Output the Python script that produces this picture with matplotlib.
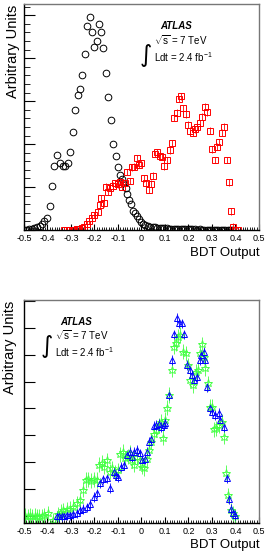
import matplotlib
matplotlib.use("Agg")
import matplotlib.pyplot as plt
from matplotlib.ticker import MultipleLocator, NullLocator

plt.rcParams["font.family"] = ["Liberation Sans", "DejaVu Sans"]
plt.rcParams["mathtext.fontset"] = "custom"
plt.rcParams["mathtext.rm"] = "Liberation Sans"
plt.rcParams["mathtext.it"] = "Liberation Sans:italic"

# ---- top panel: background (circles) and signal (squares) ----
bkg_x = [-0.495, -0.488, -0.477, -0.467, -0.457, -0.445, -0.434, -0.423, -0.413, -0.402,
         -0.391, -0.381, -0.372, -0.360, -0.346, -0.335, -0.324, -0.312, -0.304, -0.292,
         -0.283, -0.272, -0.262, -0.254, -0.242, -0.232, -0.221, -0.212, -0.201, -0.191,
         -0.181, -0.173, -0.163, -0.151, -0.141, -0.131, -0.121, -0.110, -0.101, -0.093,
         -0.085, -0.078, -0.068, -0.060, -0.054, -0.044, -0.036, -0.026, -0.019, -0.010,
         -0.002, 0.007, 0.017, 0.027, 0.037, 0.047, 0.057, 0.067, 0.077, 0.087,
         0.097, 0.107, 0.117, 0.127, 0.137, 0.147, 0.157, 0.167, 0.177, 0.187,
         0.197, 0.207, 0.217, 0.227, 0.237, 0.247, 0.257, 0.267, 0.277, 0.287,
         0.297, 0.307, 0.317, 0.327, 0.337, 0.347, 0.357, 0.367, 0.377, 0.387,
         0.397]
bkg_y = [0.00, 0.01, 0.02, 0.03, 0.05, 0.08, 0.10, 0.14, 0.22, 0.29,
         0.57, 1.02, 1.50, 1.74, 1.55, 1.50, 1.50, 1.55, 1.81, 2.29,
         2.79, 3.15, 3.28, 3.60, 4.09, 4.74, 4.96, 4.60, 4.26, 4.39,
         4.80, 4.60, 4.24, 3.66, 3.10, 2.56, 2.00, 1.73, 1.46, 1.28,
         1.18, 1.09, 0.97, 0.85, 0.71, 0.60, 0.45, 0.40, 0.33, 0.25,
         0.19, 0.15, 0.12, 0.10, 0.08, 0.07, 0.06, 0.05, 0.05, 0.04,
         0.04, 0.04, 0.03, 0.03, 0.03, 0.03, 0.03, 0.02, 0.02, 0.02,
         0.02, 0.02, 0.02, 0.02, 0.01, 0.02, 0.01, 0.01, 0.01, 0.01,
         0.01, 0.01, 0.01, 0.01, 0.01, 0.00, 0.01, 0.00, 0.00, 0.00,
         0.00]

sig_x = [-0.330, -0.319, -0.308, -0.297, -0.287, -0.276, -0.265, -0.255, -0.244, -0.233,
         -0.223, -0.211, -0.200, -0.187, -0.178, -0.172, -0.159, -0.150, -0.144, -0.133,
         -0.122, -0.112, -0.102, -0.091, -0.081, -0.069, -0.061, -0.051, -0.041, -0.031,
         -0.020, -0.012, -0.001, 0.009, 0.020, 0.030, 0.040, 0.049, 0.057, 0.067,
         0.078, 0.088, 0.097, 0.109, 0.120, 0.130, 0.140, 0.150, 0.159, 0.169,
         0.178, 0.189, 0.200, 0.208, 0.219, 0.229, 0.238, 0.248, 0.258, 0.269,
         0.280, 0.291, 0.301, 0.311, 0.322, 0.331, 0.341, 0.351, 0.362, 0.372,
         0.380, 0.391, 0.400, 0.411]
sig_y = [0.00, 0.00, 0.00, 0.00, 0.01, 0.02, 0.03, 0.05, 0.08, 0.14,
         0.21, 0.27, 0.35, 0.43, 0.58, 0.74, 0.62, 1.01, 0.89, 0.98,
         1.03, 1.09, 1.07, 1.12, 1.01, 1.09, 1.35, 1.14, 1.46, 1.47,
         1.67, 1.52, 1.55, 1.20, 1.09, 0.94, 1.08, 1.26, 1.77, 1.81,
         1.72, 1.70, 1.48, 1.63, 1.86, 2.02, 2.61, 2.73, 3.05, 3.11,
         2.83, 2.69, 2.45, 2.31, 2.26, 2.34, 2.40, 2.48, 2.64, 2.87,
         2.74, 2.31, 1.88, 1.63, 1.94, 2.05, 2.26, 2.40, 1.63, 1.11,
         0.44, 0.08, 0.01, 0.00]
sig_err = 0.08

# ---- bottom panel: two signal samples (triangles, stars) ----
blue_x = [-0.361, -0.351, -0.339, -0.329, -0.318, -0.304, -0.290, -0.273, -0.261, -0.247,
          -0.230, -0.219, -0.201, -0.190, -0.176, -0.162, -0.147, -0.133, -0.119, -0.109,
          -0.098, -0.087, -0.073, -0.062, -0.051, -0.041, -0.031, -0.019, -0.008, 0.002,
          0.013, 0.023, 0.032, 0.041, 0.052, 0.063, 0.073, 0.083, 0.094, 0.102,
          0.116, 0.130, 0.137, 0.152, 0.161, 0.173, 0.180, 0.194, 0.205, 0.216,
          0.225, 0.237, 0.247, 0.255, 0.265, 0.271, 0.280, 0.291, 0.301, 0.315,
          0.329, 0.336, 0.350, 0.362, 0.372, 0.379, 0.391, 0.400]
blue_y = [0.00, 0.00, 0.00, 0.02, 0.03, 0.03, 0.07, 0.10, 0.22, 0.25,
          0.32, 0.45, 0.72, 0.84, 1.24, 1.36, 1.40, 1.05, 1.65, 1.52,
          1.46, 1.83, 1.90, 2.27, 2.39, 2.20, 2.39, 2.45, 2.33, 2.08,
          2.11, 2.39, 2.76, 2.85, 3.35, 3.38, 3.41, 3.30, 3.38, 3.45,
          4.50, 5.80, 6.75, 7.35, 7.16, 7.16, 6.75, 5.61, 5.43, 5.24,
          5.06, 5.18, 5.80, 5.99, 6.11, 5.80, 4.78, 4.00, 3.88, 3.75,
          3.82, 3.57, 3.32, 1.40, 0.62, 0.25, 0.10, 0.04]
blue_err = 0.18

green_x = [-0.495, -0.485, -0.475, -0.465, -0.455, -0.445, -0.435, -0.425, -0.415, -0.398,
           -0.378, -0.354, -0.341, -0.332, -0.318, -0.304, -0.290, -0.273, -0.261, -0.247,
           -0.236, -0.226, -0.216, -0.204, -0.190, -0.179, -0.169, -0.159, -0.147, -0.136,
           -0.126, -0.112, -0.102, -0.090, -0.079, -0.069, -0.059, -0.048, -0.041, -0.031,
           -0.019, -0.008, 0.002, 0.012, 0.023, 0.032, 0.042, 0.052, 0.062, 0.073,
           0.083, 0.090, 0.100, 0.109, 0.116, 0.130, 0.137, 0.149, 0.154, 0.166,
           0.177, 0.188, 0.198, 0.208, 0.218, 0.230, 0.239, 0.248, 0.258, 0.265,
           0.271, 0.282, 0.291, 0.302, 0.308, 0.319, 0.329, 0.341, 0.353, 0.361,
           0.369, 0.379, 0.389, 0.400]
green_y = [0.02, 0.00, 0.01, 0.00, 0.02, 0.00, -0.02, 0.00, 0.03, 0.10,
           -0.15, 0.07, 0.15, 0.22, 0.25, 0.27, 0.35, 0.47, 0.59, 0.97,
           1.34, 1.36, 1.31, 1.36, 1.34, 1.90, 1.98, 1.83, 2.08, 1.65,
           1.77, 1.61, 1.71, 2.30, 2.39, 2.14, 2.20, 2.35, 2.08, 1.90,
           2.20, 2.08, 1.83, 1.77, 2.11, 2.45, 2.76, 3.05, 3.20, 3.38,
           3.51, 2.91, 3.57, 4.03, 4.50, 5.43, 6.29, 6.42, 6.67, 6.73,
           6.11, 6.05, 5.61, 5.06, 4.87, 5.36, 5.43, 6.05, 6.39, 5.92,
           5.49, 4.93, 4.06, 4.06, 3.22, 3.26, 3.38, 3.51, 2.95, 1.61,
           0.78, 0.22, 0.10, 0.00]
green_err = 0.28

x_label = "BDT Output"
y_label = "Arbitrary Units"
x_ticks = [-0.5, -0.4, -0.3, -0.2, -0.1, 0, 0.1, 0.2, 0.3, 0.4, 0.5]


def style_axes(ax, ylim, ymajor, yminor):
    ax.set_xlim(-0.5, 0.5)
    ax.set_ylim(*ylim)
    ax.set_xticks(x_ticks)
    ax.set_xticklabels([f"{t:g}" for t in x_ticks])
    ax.xaxis.set_minor_locator(MultipleLocator(0.01))
    ax.yaxis.set_major_locator(MultipleLocator(ymajor))
    if yminor:
        ax.yaxis.set_minor_locator(MultipleLocator(yminor))
    else:
        ax.yaxis.set_minor_locator(NullLocator())
    ax.set_yticklabels([])
    ax.tick_params(axis="x", which="major", direction="in", length=4, width=0.8,
                   labelsize=6.5, pad=2.5, top=False)
    ax.tick_params(axis="x", which="minor", direction="in", length=2, width=0.6, top=False)
    ax.tick_params(axis="y", which="major", direction="in", length=8, width=0.8, right=False)
    ax.tick_params(axis="y", which="minor", direction="in", length=4, width=0.6, right=False)
    for side in ["left", "bottom"]:
        ax.spines[side].set_linewidth(1.0)
    for side in ["top", "right"]:
        ax.spines[side].set_linewidth(1.0)
        ax.spines[side].set_color("#777777")


def atlas_label(ax, xa, xs, xi, ya, ys, yl, yi):
    ax.text(xa, ya, "ATLAS", transform=ax.transAxes, fontsize=7, fontweight="bold",
            fontstyle="italic", va="center", ha="left")
    ax.text(xs, ys, r"$\sqrt{\mathrm{s}}$ = 7 TeV", transform=ax.transAxes, fontsize=7,
            va="center", ha="left")
    ax.text(xs, yl, r"Ldt = 2.4 fb$^{\mathrm{-1}}$", transform=ax.transAxes, fontsize=7,
            va="center", ha="left")
    ax.text(xi, yi, "\u222b", transform=ax.transAxes, fontsize=17, va="center", ha="center",
            family="DejaVu Sans")


fig = plt.figure(figsize=(2.67, 5.53), dpi=100)
ax1 = fig.add_axes([0.0899, 0.584, 0.880, 0.408])
ax2 = fig.add_axes([0.0899, 0.0537, 0.880, 0.4038])

ax1.plot(bkg_x, bkg_y, linestyle="none", marker="o", ms=4.8, mfc="none", mec="black", mew=0.7)
ax1.errorbar(sig_x, sig_y, yerr=sig_err, fmt="s", ms=4.6, mfc="none", mec="red", mew=0.7,
             ecolor="red", elinewidth=0.6, capsize=0)
style_axes(ax1, (0, 5.25), 1, 0.2)
atlas_label(ax1, 0.579, 0.553, 0.519, 0.904, 0.842, 0.767, 0.775)

ax2.errorbar(green_x, green_y, yerr=green_err, fmt="*", ms=6.2, mfc="none", mec="#44ff44",
             mew=0.7, ecolor="#44ff44", elinewidth=0.6, capsize=0)
ax2.errorbar(blue_x, blue_y, yerr=blue_err, fmt="^", ms=4.8, mfc="none", mec="blue", mew=0.7,
             ecolor="blue", elinewidth=0.6, capsize=0)
style_axes(ax2, (-0.27, 8.03), 1, None)
atlas_label(ax2, 0.153, 0.132, 0.098, 0.901, 0.843, 0.768, 0.794)

# axis titles, placed like ROOT does: y title at the top end, x title at the right end
for y_top, y_xl, va_xl, x_yl in [(0.991, 0.5425, "center", 0.049),
                                 (0.456, 0.003, "bottom", 0.036)]:
    fig.text(x_yl, y_top, y_label, rotation=90, fontsize=10.5, ha="center", va="top")
    fig.text(0.974, y_xl, x_label, fontsize=9.5, ha="right", va=va_xl)

fig.savefig("out.png", dpi=100)
